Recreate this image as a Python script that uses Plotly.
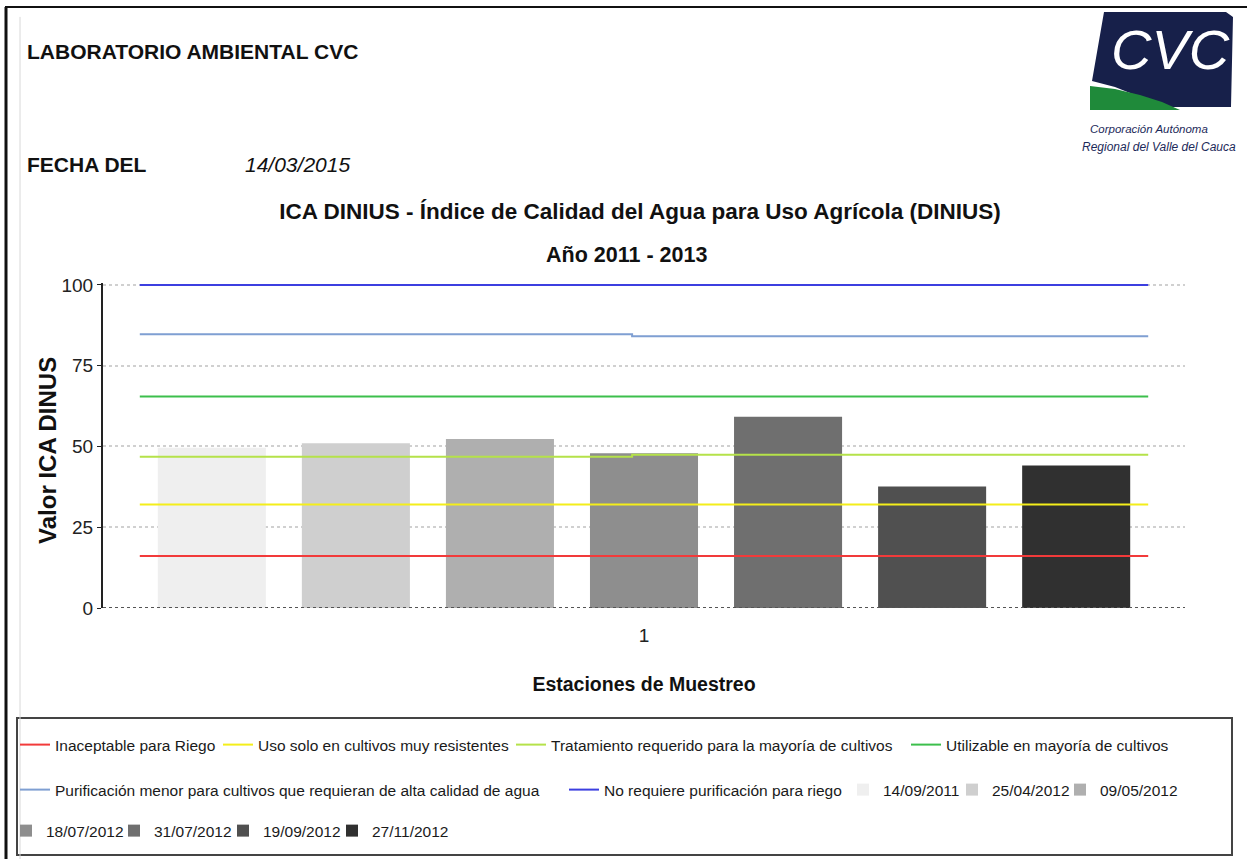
import plotly.graph_objects as go

# ---- data -------------------------------------------------------------
station_labels = ["1"]
sample_dates = ["14/09/2011", "25/04/2012", "09/05/2012", "18/07/2012",
                "31/07/2012", "19/09/2012", "27/11/2012"]
ica_values = [49.6, 51.0, 52.3, 47.9, 59.2, 37.6, 44.1]

class_names = [
    "Inaceptable para Riego",
    "Uso solo en cultivos muy resistentes",
    "Tratamiento requerido para la mayoría de cultivos",
    "Utilizable en mayoría de cultivos",
    "Purificación menor para cultivos que requieran de alta calidad de agua",
    "No requiere purificación para riego",
]
# class limits at the start and at the end of the sampling window
class_limit_start = [16.1, 32.0, 46.8, 65.5, 84.7, 100.0]
class_limit_end = [16.1, 32.0, 47.4, 65.5, 84.1, 100.0]

y_ticks = [0, 25, 50, 75, 100]

# ---- styles -----------------------------------------------------------
bar_colors = ["#efefef", "#cfcfcf", "#afafaf", "#8e8e8e",
              "#6f6f6f", "#505050", "#303030"]
class_colors = ["#f23a3a", "#f4ee1a", "#b5e24a", "#3cbf4c", "#7f9fd2", "#3c3fe0"]

W, H = 1247, 859
Y_MAX = 100.6
PL, PR, PB = 103, 1185, 608                    # plot area edges in pixels
PT = 285 - (Y_MAX - 100) * (PB - 285) / 100    # top edge so that 100 sits at 285px
FONT = "Liberation Sans, Arial, sans-serif"


def fx(px):
    return (px - PL) / (PR - PL)


def fy(py):
    return (PB - py) / (PB - PT)


fig = go.Figure()

# one legend per entry so every entry sits at its own spot in the framed box
legend_row_y = [745, 790, 831]
legend_text_x = [[55, 258, 551, 946], [55, 604, 883, 992, 1100], [46, 154, 263, 372]]
legend_slots = [(y, x) for y, xs in zip(legend_row_y, legend_text_x) for x in xs]
legend_ids = ["legend"] + [f"legend{i}" for i in range(2, len(legend_slots) + 1)]

# quality class limit lines across the group of bars
x_start, x_break, x_end = 0.534, 0.989, 1.466
for i, (name, a, b, col) in enumerate(zip(class_names, class_limit_start,
                                          class_limit_end, class_colors)):
    fig.add_trace(go.Scatter(
        x=[x_start, x_break, x_end], y=[a, b, b], mode="lines",
        line=dict(color=col, width=2, shape="hv"), name=name,
        legend=legend_ids[i],
        hovertemplate=name + ": %{y}<extra></extra>",
    ))

# sample bars, grouped around the single station
for j, (name, val, col) in enumerate(zip(sample_dates, ica_values, bar_colors)):
    fig.add_trace(go.Bar(
        x=[1], y=[val], name=name, marker=dict(color=col, line=dict(width=0)),
        legend=legend_ids[len(class_names) + j],
        hovertemplate=name + ": %{y}<extra></extra>",
    ))

legend_layout = {}
for lid, (py, tx) in zip(legend_ids, legend_slots):
    legend_layout[lid] = dict(
        orientation="h", xanchor="left", yanchor="middle",
        x=fx(tx - 40), y=fy(py),
        bgcolor="rgba(0,0,0,0)", borderwidth=0,
        font=dict(family=FONT, size=15.5, color="#1a1a1a"),
    )

shapes = [
    # baseline
    dict(type="line", xref="paper", yref="y", x0=0, x1=1, y0=0, y1=0,
         line=dict(color="#555", width=2, dash="dot"), layer="above"),
    # legend frame
    dict(type="rect", xref="paper", yref="paper", x0=fx(17), x1=fx(1232),
         y0=fy(855), y1=fy(718), line=dict(color="#444", width=2)),
    # page frame
    dict(type="line", xref="paper", yref="paper", x0=fx(5), x1=fx(1247),
         y0=fy(7), y1=fy(7), line=dict(color="#111", width=2)),
    dict(type="line", xref="paper", yref="paper", x0=fx(6), x1=fx(6),
         y0=fy(7), y1=fy(859), line=dict(color="#111", width=3)),
    dict(type="line", xref="paper", yref="paper", x0=fx(20), x1=fx(20),
         y0=fy(17), y1=fy(859), line=dict(color="#d8d8d8", width=1)),
]

# CVC logo
navy_pts = [(1104, 12), (1226, 12), (1233, 17), (1231, 107), (1165, 107),
            (1140, 97), (1115, 87), (1092, 81)]
green_pts = [(1090, 86), (1115, 89), (1140, 95), (1162, 102), (1180, 110), (1090, 110)]


def path(pts):
    return "M " + " L ".join(f"{fx(x):.5f},{fy(y):.5f}" for x, y in pts) + " Z"


shapes.append(dict(type="path", xref="paper", yref="paper", path=path(navy_pts),
                   fillcolor="#17204a", line=dict(width=0)))
shapes.append(dict(type="path", xref="paper", yref="paper", path=path(green_pts),
                   fillcolor="#1f8a3a", line=dict(width=0)))

annotations = [
    dict(text="<b>LABORATORIO AMBIENTAL CVC</b>", x=fx(25), y=fy(52),
         font=dict(family=FONT, size=21, color="#111")),
    dict(text="<b>FECHA DEL</b>", x=fx(25), y=fy(165),
         font=dict(family=FONT, size=21, color="#111")),
    dict(text="<i>14/03/2015</i>", x=fx(243), y=fy(165),
         font=dict(family=FONT, size=21, color="#111")),
    dict(text="<b>Año 2011 - 2013</b>", x=fx(626), y=fy(255), xanchor="center",
         font=dict(family=FONT, size=21.5, color="#111")),
    dict(text="<b>Valor ICA DINUS</b>", x=fx(48), y=fy(451), xanchor="center",
         textangle=-90, font=dict(family=FONT, size=24, color="#111")),
    dict(text="<i>CVC</i>", x=fx(1170), y=fy(50), xanchor="center",
         font=dict(family=FONT, size=56, color="white")),
    dict(text="<i>Corporación Autónoma</i>", x=fx(1149), y=fy(129), xanchor="center",
         font=dict(family=FONT, size=11.5, color="#1c2a5a")),
    dict(text="<i>Regional del Valle del Cauca</i>", x=fx(1159), y=fy(147),
         xanchor="center", font=dict(family=FONT, size=12, color="#1c2a5a")),
]
for a in annotations:
    a.update(xref="paper", yref="paper", showarrow=False, yanchor="middle")
    a.setdefault("xanchor", "left")

fig.update_layout(
    width=W, height=H, autosize=False,
    margin=dict(l=PL, r=W - PR, t=PT, b=H - PB, autoexpand=False),
    paper_bgcolor="white", plot_bgcolor="white",
    barmode="group", bargap=0.068, bargroupgap=0.25,
    title=dict(text="<b>ICA DINIUS - Índice de Calidad del Agua para Uso Agrícola (DINIUS)</b>",
               x=fx(640), xanchor="center", xref="paper",
               y=1 - 211 / H, yanchor="middle", yref="container",
               font=dict(family=FONT, size=22.5, color="#111")),
    xaxis=dict(range=[0.5, 1.5], tickvals=[1], ticktext=station_labels,
               showgrid=False, zeroline=False, showline=False, ticks="",
               ticklabelstandoff=14,
               tickfont=dict(family=FONT, size=19, color="#222"),
               title=dict(text="<b>Estaciones de Muestreo</b>", standoff=32,
                          font=dict(family=FONT, size=19.5, color="#111"))),
    yaxis=dict(range=[0, Y_MAX], tickvals=y_ticks,
               showgrid=True, gridcolor="#d0d0d0", griddash="dot", gridwidth=2,
               zeroline=False, showline=True, linecolor="#222", linewidth=2,
               ticks="outside", ticklen=4, tickcolor="#222",
               tickfont=dict(family=FONT, size=19, color="#222")),
    shapes=shapes, annotations=annotations,
    showlegend=True,
    **legend_layout,
)

fig.write_html("out.html")
